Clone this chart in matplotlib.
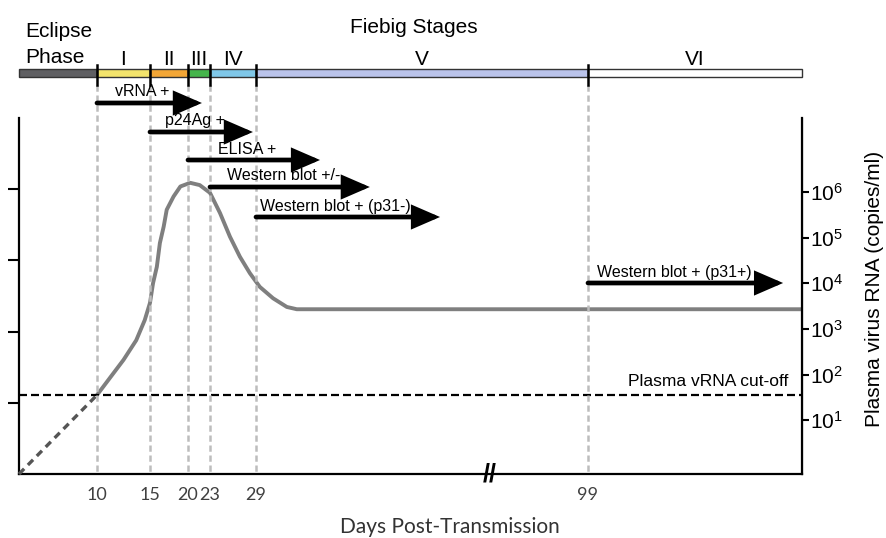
import numpy as np
import matplotlib.pyplot as plt
from matplotlib.ticker import FixedLocator, NullLocator, NullFormatter, FuncFormatter

plt.rcParams['font.family'] = ['Liberation Sans', 'DejaVu Sans']
plt.rcParams['mathtext.fontset'] = 'custom'
plt.rcParams['mathtext.rm'] = 'Liberation Sans'

# ---------------------------------------------------------------- data
# Fiebig stages (days post-transmission)
stage_names = ['', 'I', 'II', 'III', 'IV', 'V', 'VI']
stage_start = [0, 10, 15, 20, 23, 29, 99]
stage_end = [10, 15, 20, 23, 29, 99, 150]
stage_colors = ['#5f5f62', '#f2e36c', '#f2a636', '#45b54b', '#7fc7e8', '#bac3ea', '#ffffff']

day_ticks = [10, 15, 20, 23, 29, 99]

# plasma viral load, log10 copies/ml
curve_days = [10, 11.2, 12.5, 13.7, 14.5, 15.0, 15.4, 15.9, 16.3, 16.8, 17.2, 18.1,
              19.0, 20.3, 21.6, 23.0, 24.3, 25.6, 26.9, 28.2, 29.8, 32.6, 35.5, 37.6, 150]
curve_log = [1.55, 1.92, 2.32, 2.75, 3.19, 3.57, 4.00, 4.36, 4.88, 5.24, 5.61, 5.90,
             6.12, 6.20, 6.15, 5.98, 5.54, 5.02, 4.58, 4.22, 3.92, 3.67, 3.48, 3.43, 3.43]
eclipse_days = [0, 10]
eclipse_log = [-0.18, 1.55]
cutoff = 35

# assays turning positive
tests = ['vRNA +', 'p24Ag +', 'ELISA +', 'Western blot +/-',
         'Western blot + (p31-)', 'Western blot + (p31+)']
test_start = [10, 15, 20, 23, 29, 99]
test_end = [21.9, 28.6, 42.5, 53.0, 67.8, 145.5]

# ---------------------------------------------------------------- schematic day axis (broken)
anchor_days = [-100, 0, 10, 15, 20, 23, 29, 99, 150, 300]
anchor_pos = [-761, 19, 97, 150, 188, 210, 256, 588, 802, 1432]


def fwd(d):
    return np.interp(d, anchor_days, anchor_pos)


def inv(p):
    return np.interp(p, anchor_pos, anchor_days)


W, H = 887, 538
fig = plt.figure(figsize=(W / 100, H / 100), dpi=100)
ax = fig.add_axes([19 / W, 1 - 474 / H, 783 / W, 356 / H])
ax.set_xscale('function', functions=(fwd, inv))
ax.set_xlim(0, 150)
ax.set_ylim(0, 5)
ax.patch.set_visible(False)

ax_r = ax.twinx()
ax_r.set_yscale('log')
ax_r.set_ylim(10 ** -0.18, 10 ** 7.62)

# spines
ax.spines['top'].set_visible(False)
ax_r.spines['top'].set_visible(False)
for s in ['left', 'bottom']:
    ax.spines[s].set_linewidth(1.6)
ax_r.spines['right'].set_linewidth(1.6)
ax_r.spines['left'].set_visible(False)
ax_r.spines['bottom'].set_visible(False)

# left unlabeled ticks
ax.set_yticks([1, 2, 3, 4])
ax.yaxis.set_major_formatter(NullFormatter())
ax.tick_params(axis='y', direction='out', length=8, width=1.5)

# x ticks
ax.set_xticks(day_ticks, labels=[str(d) for d in day_ticks])
ax.tick_params(axis='x', which='major', length=0, pad=9, labelsize=13, labelcolor='#404040')
for lbl in ax.get_xticklabels():
    lbl.set_fontfamily('Lato')
ax.xaxis.set_minor_locator(FixedLocator([99]))
ax.xaxis.set_minor_formatter(NullFormatter())
ax.tick_params(axis='x', which='minor', length=7, width=1.6, direction='out')
ax.set_xlabel('Days Post-Transmission', fontfamily='Lato', fontsize=15, color='#333333')
ax.xaxis.set_label_coords((450 - 19) / 783, (474 - 527) / 356)
ax.xaxis.label.set_va('center')

# right log axis
ax_r.yaxis.set_major_locator(FixedLocator([10, 100, 1e3, 1e4, 1e5, 1e6]))
ax_r.yaxis.set_minor_locator(NullLocator())
ax_r.yaxis.set_major_formatter(FuncFormatter(lambda v, p: r'$\mathregular{10^{%d}}$' % round(np.log10(v))))
ax_r.tick_params(axis='y', direction='out', length=5, width=1.5, pad=1, labelsize=15)
ax_r.set_ylabel('Plasma virus RNA (copies/ml)', fontsize=15, rotation=90, ha='center', va='center')
ax_r.yaxis.set_label_coords((875 - 19) / 783, (474 - 289) / 356)

# viral load curve
ax_r.plot(eclipse_days, 10 ** np.array(eclipse_log), color='#555555', lw=2.4,
          ls=(0, (2.2, 1.6)), clip_on=False)
ax_r.plot(curve_days, 10 ** np.array(curve_log), color='#7f7f7f', lw=2.8,
          solid_joinstyle='round', solid_capstyle='butt')
ax_r.axhline(cutoff, color='black', lw=1.6, ls=(0, (3.6, 1.8)))

# ---------------------------------------------------------------- overlay (pixel rows)
ax_o = fig.add_axes([19 / W, 0, 783 / W, 1], sharex=ax)
ax_o.set_ylim(H, 0)
ax_o.axis('off')

for d in day_ticks:
    ax_o.plot([d, d], [85, 474], color='#bdbdbd', lw=1.8, ls=(0, (2.5, 1.5)), zorder=1)

# stage bar
bar_w = np.array(stage_end) - np.array(stage_start)
ax_o.barh(73, bar_w, left=stage_start, height=8, color=stage_colors,
          edgecolor='#333333', linewidth=1, clip_on=False, zorder=3)
for d in stage_start[1:]:
    ax_o.plot([d, d], [65, 85], color='black', lw=1.8, zorder=4)
for name, a, b in zip(stage_names, stage_start, stage_end):
    if name:
        ax_o.text((a + b) / 2, 65, name, ha='center', va='baseline', fontsize=15)
ax_o.text(inv(25), 37, 'Eclipse', ha='left', va='baseline', fontsize=15)
ax_o.text(inv(25), 63, 'Phase', ha='left', va='baseline', fontsize=15)
ax_o.text(inv(414), 33, 'Fiebig Stages', ha='center', va='baseline', fontsize=15)

# assay arrows
arrow_rows = [103, 132, 160, 187, 217, 283]
label_px = [115, 165, 218, 227, 260, 597]
for name, a, b, y, lx in zip(tests, test_start, test_end, arrow_rows, label_px):
    ax_o.annotate('', xy=(b, y), xytext=(a, y),
                  arrowprops=dict(arrowstyle='-|>,head_length=1.5,head_width=0.65',
                                  color='black', lw=3.4, shrinkA=0, shrinkB=0,
                                  joinstyle='miter'), zorder=5)
    ax_o.text(inv(lx), y - 6.5, name, ha='left', va='baseline', fontsize=11.5)

ax_o.text(inv(788), 382, 'Plasma vRNA cut-off', ha='right', va='center', fontsize=12.5)
ax_o.text(inv(490), 474, '//', ha='center', va='center', fontsize=18, fontweight='bold')

fig.savefig('out.png', dpi=100)
